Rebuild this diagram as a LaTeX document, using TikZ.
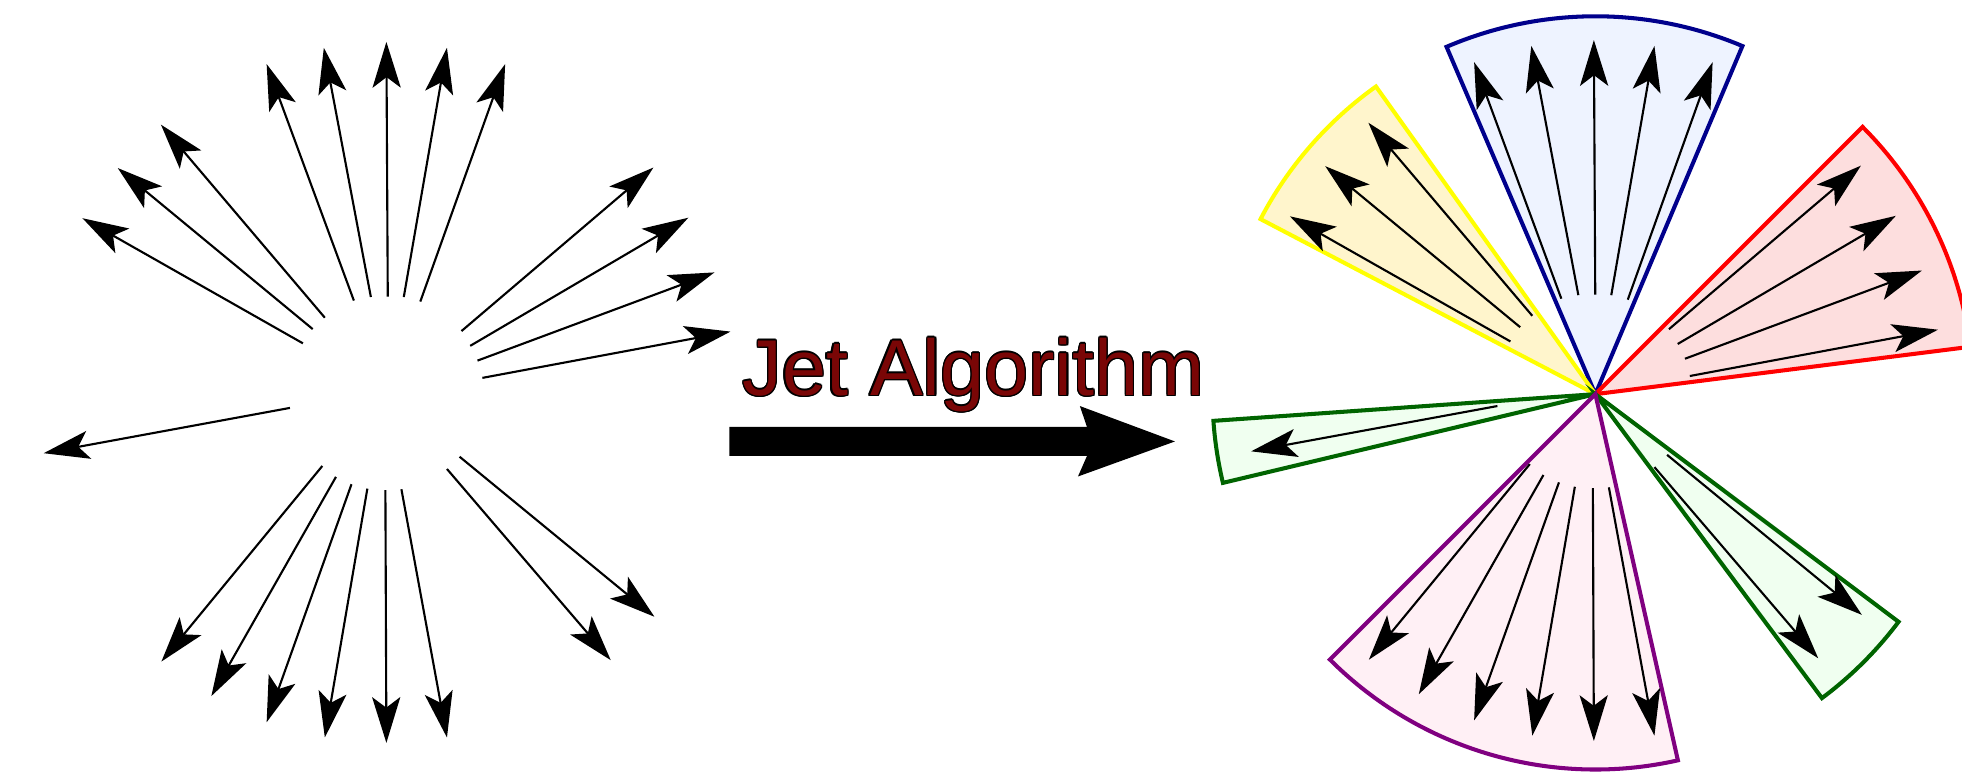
\documentclass[tikz,border=0pt]{standalone}
\usepackage{fontspec}
\newfontfamily\labelfont{Liberation Sans}
\usetikzlibrary{arrows.meta}

\definecolor{jetred}{RGB}{122,6,6}
\definecolor{bluedge}{RGB}{0,0,140}
\definecolor{bluefill}{RGB}{238,243,255}
\definecolor{yeledge}{RGB}{255,255,0}
\definecolor{yelfill}{RGB}{255,245,204}
\definecolor{rededge}{RGB}{255,0,0}
\definecolor{redfill}{RGB}{253,222,222}
\definecolor{grnedge}{RGB}{0,100,0}
\definecolor{grnfill}{RGB}{240,255,240}
\definecolor{purpedge}{RGB}{128,0,128}
\definecolor{purpfill}{RGB}{255,240,245}

\tikzset{
  ray/.style={line width=0.6pt, -{Stealth[length=13pt,width=8pt,inset=3pt]}},
  cone/.style={line width=1.15pt, line join=miter},
  titletext/.style={font=\labelfont\fontsize{22.5}{27}\selectfont, anchor=base, inner sep=0pt},
}

% one spray of particles: start point / tip of every ray
\newcommand\drawburst[1]{%
  \foreach \sx/\sy/\tx/\ty [count=\k] in {
    242.1/274.4/65.9/174.4,
    249.9/263.0/94.1/134.3,
    259.6/253.9/128.6/99.6,
    282.8/240.2/213.1/51.2,
    296.4/237.4/258.8/38.2,
    309.9/237.0/308.8/33.5,
    322.7/237.4/357.2/38.2,
    335.9/241.0/403.7/51.2,
    368.8/264.6/522.2/133.9,
    375.8/276.4/550.1/174.0,
    381.6/288.2/571.0/217.7,
    385.5/302.0/583.8/265.0,
    231.7/326.0/34.9/362.2,
    257.6/372.4/129.0/528.7,
    268.5/381.1/168.9/556.3,
    280.9/387.0/213.1/577.2,
    293.6/390.5/259.6/589.4,
    308.0/391.7/308.8/593.7,
    320.8/391.0/357.2/589.4,
    357.2/374.8/488.1/527.6,
    367.3/365.0/523.0/492.9}{
    \coordinate (#1s\k) at (\sx,\sy);
    \coordinate (#1t\k) at (\tx,\ty);
    \draw[ray] (#1s\k) -- (#1t\k);
  }%
}

\begin{document}
\begin{tikzpicture}[x=0.0125cm, y=-0.0125cm]
\useasboundingbox (0,0) rectangle (1568,617);

% ---- left: the raw particles ----
\drawburst{L}

% ---- middle: title and the big arrow ----
\foreach \a [count=\k] in {0,30,...,330}
  \node[titletext, text=black, xshift={0.4pt*cos(\a)}, yshift={0.4pt*sin(\a)}] (halo\k) at (778,316) {Jet Algorithm};
\node[titletext, text=jetred] (title) at (778,316) {Jet Algorithm};

\fill (583,341.2) -- (868.7,341.2) -- (863,324.5) -- (939,352.8)
      -- (861.5,380.8) -- (868.7,364.4) -- (583,364.4) -- cycle;

% ---- right: the particles grouped into jets ----
\coordinate (apex) at (1275,315);
\begin{scope}[shift={(apex)}, y=0.0125cm]
  \filldraw[cone, draw=bluedge, fill=bluefill]
    (0,0) -- (67.1:302) arc[start angle=67.1, end angle=113.2, radius=302] -- cycle;
  \filldraw[cone, draw=yeledge, fill=yelfill]
    (0,0) -- (125.5:302) arc[start angle=125.5, end angle=152.4, radius=302] -- cycle;
  \filldraw[cone, draw=rededge, fill=redfill]
    (0,0) -- (7.2:302) arc[start angle=7.2, end angle=45.0, radius=302] -- cycle;
  \filldraw[cone, draw=grnedge, fill=grnfill]
    (0,0) -- (184.0:306) arc[start angle=184.0, end angle=193.4, radius=306] -- cycle;
  \filldraw[cone, draw=grnedge, fill=grnfill]
    (0,0) -- (-53.3:303) arc[start angle=-53.3, end angle=-36.9, radius=303] -- cycle;
  \filldraw[cone, draw=purpedge, fill=purpfill]
    (0,0) -- (225.0:300) arc[start angle=225.0, end angle=282.7, radius=300] -- cycle;
\end{scope}

\begin{scope}[shift={(965,-1.5)}]
  \drawburst{R}
\end{scope}
\end{tikzpicture}
\end{document}
